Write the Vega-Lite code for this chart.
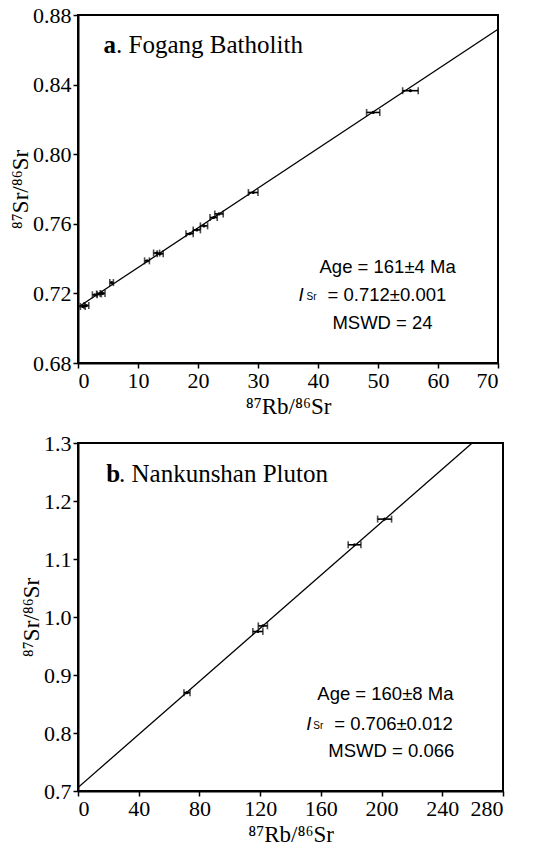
{
 "$schema": "https://vega.github.io/schema/vega-lite/v6.json",
 "padding": {"left": 8, "top": 3, "right": 20, "bottom": 1},
 "background": "white",
 "spacing": 12,
 "config": {
  "view": {"stroke": "black", "strokeWidth": 2},
  "axis": {"domainColor": "black", "domainWidth": 2, "tickColor": "black", "tickWidth": 1.5, "labelFont": "Liberation Serif", "labelFontSize": 22, "labelColor": "black", "titleFont": "Liberation Serif", "titleFontSize": 23, "titleFontWeight": "normal", "titleColor": "black", "grid": false, "labelPadding": 2, "labelOverlap": false}
 },
 "datasets": {
  "fogang_pts": [
   {"rb": 0.8, "sr": 0.7125, "err": 0.4},
   {"rb": 1.4, "sr": 0.7130, "err": 0.4},
   {"rb": 2.8, "sr": 0.7192, "err": 0.4},
   {"rb": 3.5, "sr": 0.7197, "err": 0.4},
   {"rb": 4.1, "sr": 0.7200, "err": 0.4},
   {"rb": 5.6, "sr": 0.7262, "err": 0.3},
   {"rb": 11.5, "sr": 0.7387, "err": 0.4},
   {"rb": 13.1, "sr": 0.7432, "err": 0.5},
   {"rb": 13.7, "sr": 0.7428, "err": 0.5},
   {"rb": 18.6, "sr": 0.7543, "err": 0.6},
   {"rb": 19.8, "sr": 0.7565, "err": 0.6},
   {"rb": 21.0, "sr": 0.7588, "err": 0.6},
   {"rb": 22.6, "sr": 0.7636, "err": 0.6},
   {"rb": 23.5, "sr": 0.7657, "err": 0.7},
   {"rb": 29.2, "sr": 0.7780, "err": 0.8},
   {"rb": 49.2, "sr": 0.8240, "err": 1.1},
   {"rb": 55.4, "sr": 0.8365, "err": 1.3}
  ],
  "fogang_line": [
   {"rb": 0, "sr": 0.712},
   {"rb": 70, "sr": 0.8718}
  ],
  "nank_pts": [
   {"rb": 71.8, "sr": 0.8696, "err": 2.0},
   {"rb": 118.5, "sr": 0.975, "err": 3.3},
   {"rb": 121.8, "sr": 0.9847, "err": 3.0},
   {"rb": 182.2, "sr": 1.1245, "err": 4.2},
   {"rb": 202.0, "sr": 1.1688, "err": 4.6}
  ],
  "nank_line": [
   {"rb": 0, "sr": 0.706},
   {"rb": 259.7, "sr": 1.3}
  ]
 },
 "vconcat": [
  {
   "width": 420,
   "height": 348,
   "layer": [
    {
     "data": {"name": "fogang_line"},
     "mark": {"type": "line", "color": "black", "strokeWidth": 1.3, "clip": true},
     "encoding": {
      "x": {"field": "rb", "type": "quantitative", "scale": {"domain": [0, 70], "nice": false}, "title": "⁸⁷Rb/⁸⁶Sr",
            "axis": {"values": [0, 10, 20, 30, 40, 50, 60, 70], "format": "d", "tickSize": 5, "titlePadding": 4}},
      "y": {"field": "sr", "type": "quantitative", "scale": {"domain": [0.68, 0.88], "nice": false, "zero": false}, "title": "⁸⁷Sr/⁸⁶Sr",
            "axis": {"values": [0.68, 0.70, 0.72, 0.74, 0.76, 0.78, 0.80, 0.82, 0.84, 0.86, 0.88],
                     "labelExpr": "round(datum.value*100) % 4 != 0 ? '' : format(datum.value, '.2f')",
                     "tickSize": {"condition": {"test": "round(datum.value*100) % 4 != 0", "value": -5}, "value": 5},
                     "titlePadding": 0}}
     }
    },
    {
     "data": {"name": "fogang_pts"},
     "mark": {"type": "errorbar", "ticks": true, "color": "black", "thickness": 1.6, "size": 7},
     "encoding": {
      "x": {"field": "rb", "type": "quantitative", "title": "⁸⁷Rb/⁸⁶Sr"},
      "xError": {"field": "err"},
      "y": {"field": "sr", "type": "quantitative", "title": "⁸⁷Sr/⁸⁶Sr"}
     }
    },
    {
     "data": {"name": "fogang_pts"},
     "mark": {"type": "point", "filled": true, "color": "black", "size": 10, "opacity": 1},
     "encoding": {
      "x": {"field": "rb", "type": "quantitative", "title": "⁸⁷Rb/⁸⁶Sr"},
      "y": {"field": "sr", "type": "quantitative", "title": "⁸⁷Sr/⁸⁶Sr"}
     }
    },
    {
     "data": {"values": [{"t": "a"}]},
     "mark": {"type": "text", "font": "Liberation Serif", "fontSize": 25, "fontWeight": "bold", "align": "left", "baseline": "middle", "color": "black"},
     "encoding": {"x": {"datum": 4.25, "type": "quantitative"}, "y": {"datum": 0.8628, "type": "quantitative"}, "text": {"field": "t"}}
    },
    {
     "data": {"values": [{"t": ". Fogang Batholith"}]},
     "mark": {"type": "text", "font": "Liberation Serif", "fontSize": 25, "align": "left", "baseline": "middle", "color": "black"},
     "encoding": {"x": {"datum": 6.35, "type": "quantitative"}, "y": {"datum": 0.8628, "type": "quantitative"}, "text": {"field": "t"}}
    },
    {
     "data": {"values": [{"t": "Age = 161±4 Ma"}]},
     "mark": {"type": "text", "font": "Liberation Sans", "fontSize": 18.5, "align": "center", "baseline": "middle", "color": "black"},
     "encoding": {"x": {"datum": 51.6, "type": "quantitative"}, "y": {"datum": 0.7352, "type": "quantitative"}, "text": {"field": "t"}}
    },
    {
     "data": {"values": [{"t": "I"}]},
     "mark": {"type": "text", "font": "Liberation Sans", "fontSize": 18.5, "fontStyle": "italic", "align": "right", "baseline": "middle", "color": "black"},
     "encoding": {"x": {"datum": 37.6, "type": "quantitative"}, "y": {"datum": 0.7191, "type": "quantitative"}, "text": {"field": "t"}}
    },
    {
     "data": {"values": [{"t": "Sr"}]},
     "mark": {"type": "text", "font": "Liberation Sans", "fontSize": 10, "align": "left", "baseline": "middle", "color": "black", "dy": 2},
     "encoding": {"x": {"datum": 38.1, "type": "quantitative"}, "y": {"datum": 0.7191, "type": "quantitative"}, "text": {"field": "t"}}
    },
    {
     "data": {"values": [{"t": "= 0.712±0.001"}]},
     "mark": {"type": "text", "font": "Liberation Sans", "fontSize": 18.5, "align": "left", "baseline": "middle", "color": "black"},
     "encoding": {"x": {"datum": 41.6, "type": "quantitative"}, "y": {"datum": 0.7191, "type": "quantitative"}, "text": {"field": "t"}}
    },
    {
     "data": {"values": [{"t": "MSWD = 24"}]},
     "mark": {"type": "text", "font": "Liberation Sans", "fontSize": 18.5, "align": "center", "baseline": "middle", "color": "black"},
     "encoding": {"x": {"datum": 50.75, "type": "quantitative"}, "y": {"datum": 0.703, "type": "quantitative"}, "text": {"field": "t"}}
    }
   ]
  },
  {
   "width": 425,
   "height": 348,
   "layer": [
    {
     "data": {"name": "nank_line"},
     "mark": {"type": "line", "color": "black", "strokeWidth": 1.3, "clip": true},
     "encoding": {
      "x": {"field": "rb", "type": "quantitative", "scale": {"domain": [0, 280], "nice": false}, "title": "⁸⁷Rb/⁸⁶Sr",
            "axis": {"values": [0, 40, 80, 120, 160, 200, 240, 280], "format": "d", "tickSize": 5, "titlePadding": 4}},
      "y": {"field": "sr", "type": "quantitative", "scale": {"domain": [0.7, 1.3], "nice": false, "zero": false}, "title": "⁸⁷Sr/⁸⁶Sr",
            "axis": {"values": [0.7, 0.8, 0.9, 1.0, 1.1, 1.2, 1.3], "format": ".1f", "tickSize": 5, "titlePadding": 0}}
     }
    },
    {
     "data": {"name": "nank_pts"},
     "mark": {"type": "errorbar", "ticks": true, "color": "black", "thickness": 1.6, "size": 7},
     "encoding": {
      "x": {"field": "rb", "type": "quantitative", "title": "⁸⁷Rb/⁸⁶Sr"},
      "xError": {"field": "err"},
      "y": {"field": "sr", "type": "quantitative", "title": "⁸⁷Sr/⁸⁶Sr"}
     }
    },
    {
     "data": {"name": "nank_pts"},
     "mark": {"type": "point", "filled": true, "color": "black", "size": 10, "opacity": 1},
     "encoding": {
      "x": {"field": "rb", "type": "quantitative", "title": "⁸⁷Rb/⁸⁶Sr"},
      "y": {"field": "sr", "type": "quantitative", "title": "⁸⁷Sr/⁸⁶Sr"}
     }
    },
    {
     "data": {"values": [{"t": "b"}]},
     "mark": {"type": "text", "font": "Liberation Serif", "fontSize": 25, "fontWeight": "bold", "align": "left", "baseline": "middle", "color": "black"},
     "encoding": {"x": {"datum": 18.6, "type": "quantitative"}, "y": {"datum": 1.2466, "type": "quantitative"}, "text": {"field": "t"}}
    },
    {
     "data": {"values": [{"t": ". Nankunshan Pluton"}]},
     "mark": {"type": "text", "font": "Liberation Serif", "fontSize": 25, "align": "left", "baseline": "middle", "color": "black"},
     "encoding": {"x": {"datum": 27.0, "type": "quantitative"}, "y": {"datum": 1.2466, "type": "quantitative"}, "text": {"field": "t"}}
    },
    {
     "data": {"values": [{"t": "Age = 160±8 Ma"}]},
     "mark": {"type": "text", "font": "Liberation Sans", "fontSize": 18.5, "align": "center", "baseline": "middle", "color": "black"},
     "encoding": {"x": {"datum": 202.5, "type": "quantitative"}, "y": {"datum": 0.867, "type": "quantitative"}, "text": {"field": "t"}}
    },
    {
     "data": {"values": [{"t": "I"}]},
     "mark": {"type": "text", "font": "Liberation Sans", "fontSize": 18.5, "fontStyle": "italic", "align": "right", "baseline": "middle", "color": "black"},
     "encoding": {"x": {"datum": 153.7, "type": "quantitative"}, "y": {"datum": 0.8155, "type": "quantitative"}, "text": {"field": "t"}}
    },
    {
     "data": {"values": [{"t": "Sr"}]},
     "mark": {"type": "text", "font": "Liberation Sans", "fontSize": 10, "align": "left", "baseline": "middle", "color": "black", "dy": 2},
     "encoding": {"x": {"datum": 155.0, "type": "quantitative"}, "y": {"datum": 0.8155, "type": "quantitative"}, "text": {"field": "t"}}
    },
    {
     "data": {"values": [{"t": "= 0.706±0.012"}]},
     "mark": {"type": "text", "font": "Liberation Sans", "fontSize": 18.5, "align": "left", "baseline": "middle", "color": "black"},
     "encoding": {"x": {"datum": 168.8, "type": "quantitative"}, "y": {"datum": 0.8155, "type": "quantitative"}, "text": {"field": "t"}}
    },
    {
     "data": {"values": [{"t": "MSWD = 0.066"}]},
     "mark": {"type": "text", "font": "Liberation Sans", "fontSize": 18.5, "align": "center", "baseline": "middle", "color": "black"},
     "encoding": {"x": {"datum": 206.4, "type": "quantitative"}, "y": {"datum": 0.769, "type": "quantitative"}, "text": {"field": "t"}}
    }
   ]
  }
 ]
}
